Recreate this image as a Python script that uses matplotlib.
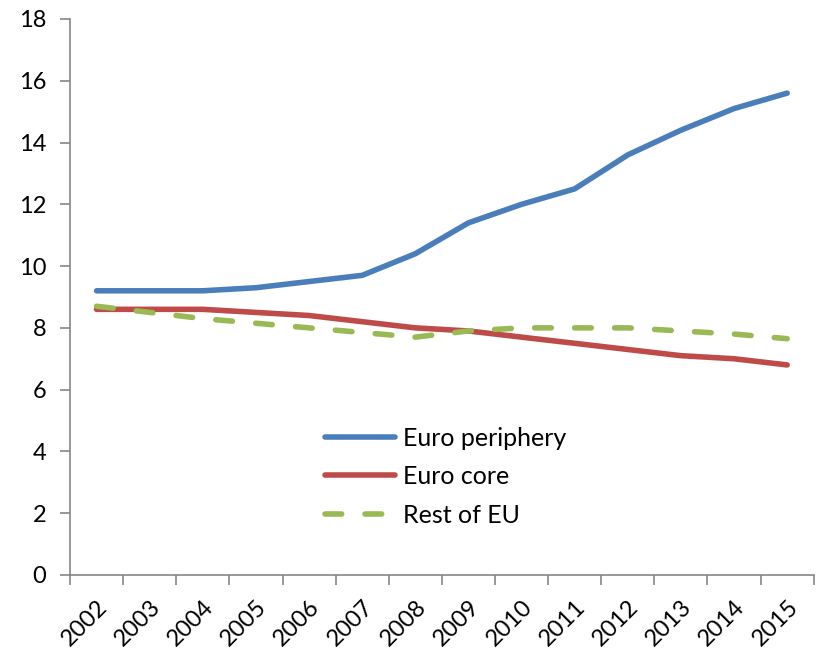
import matplotlib.pyplot as plt
from matplotlib.ticker import MultipleLocator

years = ["2002", "2003", "2004", "2005", "2006", "2007", "2008",
         "2009", "2010", "2011", "2012", "2013", "2014", "2015"]

euro_periphery = [9.2, 9.2, 9.2, 9.3, 9.5, 9.7, 10.4, 11.4, 12.0, 12.5, 13.6, 14.4, 15.1, 15.6]
euro_core = [8.6, 8.6, 8.6, 8.5, 8.4, 8.2, 8.0, 7.9, 7.7, 7.5, 7.3, 7.1, 7.0, 6.8]
rest_of_eu = [8.7, 8.5, 8.3, 8.15, 8.0, 7.85, 7.7, 7.9, 8.0, 8.0, 8.0, 7.9, 7.8, 7.65]

plt.rcParams["font.family"] = ["Lato", "DejaVu Sans"]

fig = plt.figure(figsize=(8.17, 6.48), dpi=100)
ax = fig.add_axes([0.0857, 0.1127, 0.9103, 0.858])

x = list(range(len(years)))
ax.plot(x, euro_periphery, color="#4A7EBB", lw=4, solid_capstyle="round", label="Euro periphery")
ax.plot(x, euro_core, color="#BE4B48", lw=4, solid_capstyle="round", label="Euro core")
ax.plot(x, rest_of_eu, color="#98B954", lw=4, ls=(0, (3.0, 4.2)), dash_capstyle="round",
        label="Rest of EU")

ax.set_xlim(-0.5, len(years) - 0.5)
ax.set_ylim(0, 18)
ax.yaxis.set_major_locator(MultipleLocator(2))

# category labels in the middle, tick marks on the boundaries
ax.set_xticks(x)
ax.set_xticklabels(years, rotation=45, ha="right", rotation_mode="anchor")
ax.set_xticks([i - 0.5 for i in range(len(years) + 1)], minor=True)
ax.tick_params(axis="x", which="major", length=0, pad=15, labelsize=17)
ax.tick_params(axis="x", which="minor", length=7, width=1.2, color="#868686", direction="out")
ax.tick_params(axis="y", length=7, width=1.2, color="#868686", labelsize=17, pad=10)

for side in ["top", "right"]:
    ax.spines[side].set_visible(False)
for side in ["left", "bottom"]:
    ax.spines[side].set_color("#868686")
    ax.spines[side].set_linewidth(1.2)

ax.legend(loc="upper left", bbox_to_anchor=(0.33, 0.285), frameon=False, fontsize=18,
          handlelength=2.8, handletextpad=0.3, labelspacing=0.62, borderaxespad=0)

fig.savefig("out.png", dpi=100)
